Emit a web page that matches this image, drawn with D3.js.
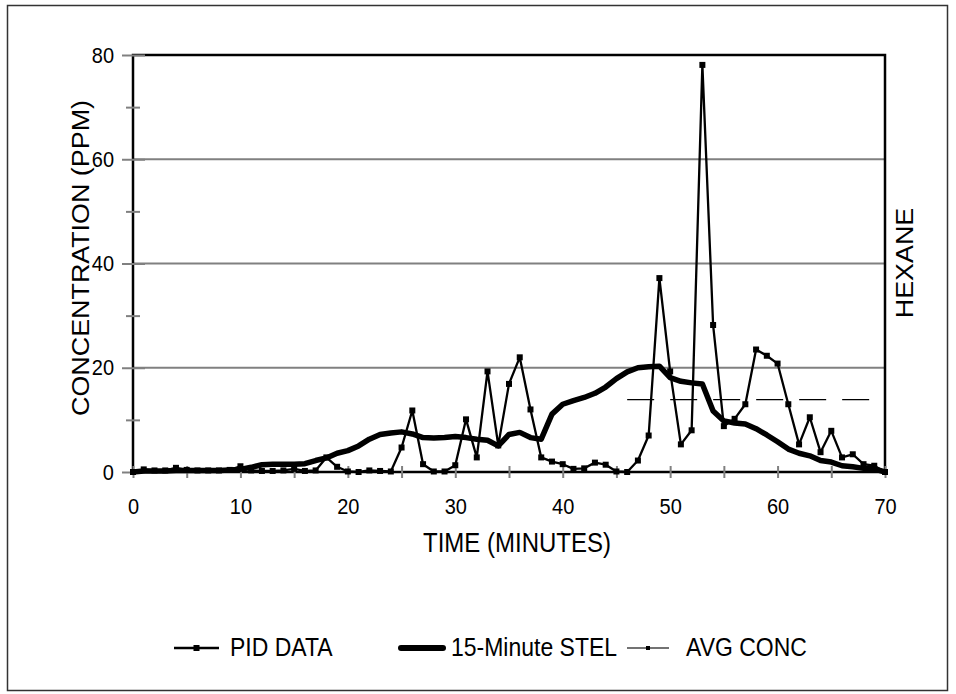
<!DOCTYPE html>
<html>
<head>
<meta charset="utf-8">
<script src="https://cdn.jsdelivr.net/npm/d3@7"></script>
<style>
  body { margin: 0; background: #fff; }
</style>
</head>
<body>
<div id="chart"></div>
<script>
// ---- data ----
const minutes = [0, 1, 2, 3, 4, 5, 6, 7, 8, 9, 10, 11, 12, 13, 14, 15, 16, 17, 18, 19,
  20, 21, 22, 23, 24, 25, 26, 27, 28, 29, 30, 31, 32, 33, 34, 35, 36, 37, 38, 39,
  40, 41, 42, 43, 44, 45, 46, 47, 48, 49, 50, 51, 52, 53, 54, 55, 56, 57, 58, 59,
  60, 61, 62, 63, 64, 65, 66, 67, 68, 69, 70];

const pidData = [0, 0.5, 0.3, 0.3, 0.8, 0.4, 0.3, 0.3, 0.3, 0.4, 1.1, 0.3, 0.2, 0.2, 0.3, 0.6, 0.2, 0.3, 2.8, 1.0,
  0.1, 0, 0.3, 0.2, 0.1, 4.7, 11.8, 1.5, 0.1, 0.1, 1.3, 10.1, 2.8, 19.3, 5.1, 16.9, 22.0, 12.0, 2.8, 2.0,
  1.5, 0.6, 0.7, 1.8, 1.4, 0.1, 0, 2.2, 7.0, 37.2, 19.3, 5.3, 8.0, 78.1, 28.2, 8.8, 10.2, 13.0, 23.5, 22.3,
  20.8, 13.0, 5.3, 10.5, 3.8, 7.9, 2.8, 3.4, 1.5, 1.2, 0];

const stelData = [0, 0.2, 0.2, 0.2, 0.3, 0.3, 0.3, 0.3, 0.3, 0.4, 0.5, 0.9, 1.4, 1.5, 1.5, 1.5, 1.6, 2.2, 2.7, 3.6,
  4.1, 5.0, 6.3, 7.2, 7.5, 7.7, 7.3, 6.6, 6.5, 6.6, 6.8, 6.6, 6.3, 6.1, 5.0, 7.2, 7.6, 6.6, 6.3, 11.1,
  13.0, 13.7, 14.3, 15.1, 16.3, 17.9, 19.2, 20.0, 20.2, 20.3, 18.1, 17.4, 17.1, 16.9, 11.7, 9.8, 9.4, 9.2, 8.3, 7.1,
  5.8, 4.4, 3.6, 3.1, 2.2, 1.9, 1.2, 1.0, 0.7, 0.6, 0];

const avgMinutes = [46, 70];
const avgConc = [13.9, 13.9];

const xTickValues = [0, 5, 10, 15, 20, 25, 30, 35, 40, 45, 50, 55, 60, 65, 70];
const xTickLabels = [0, 10, 20, 30, 40, 50, 60, 70];
const yTickValues = [0, 10, 20, 30, 40, 50, 60, 70, 80];
const yTickLabels = [0, 20, 40, 60, 80];
const gridValues = [20, 40, 60];

const legendNames = ["PID DATA", "15-Minute STEL", "AVG CONC"];

// ---- chart space ----
const width = 956;
const height = 694;
const margin = ({top: 55, right: 71, bottom: 222, left: 133});
const font = "'Liberation Sans', Arial, sans-serif";
const stretch = 1.12; // text in the original looks a bit taller than wide

const svg = d3.create('svg')
  .attr('width', width)
  .attr('height', height)
  .style('font-family', font);

// outer border
svg.append('rect')
  .attr('x', 7.5).attr('y', 5.5)
  .attr('width', 940).attr('height', 685)
  .attr('fill', 'none')
  .attr('stroke', '#333')
  .attr('stroke-width', 1.5);

const xScale = d3.scaleLinear()
  .domain([0, 70])
  .range([margin.left, width - margin.right]);

const yScale = d3.scaleLinear()
  .domain([0, 80])
  .range([height - margin.bottom, margin.top]);

// gridlines
svg.append('g')
  .selectAll('line')
  .data(gridValues)
  .join('line')
  .attr('x1', xScale(0)).attr('x2', xScale(70))
  .attr('y1', d => yScale(d)).attr('y2', d => yScale(d))
  .attr('stroke', '#808080')
  .attr('stroke-width', 2);

// plot frame
svg.append('rect')
  .attr('x', xScale(0)).attr('y', yScale(80))
  .attr('width', xScale(70) - xScale(0))
  .attr('height', yScale(0) - yScale(80))
  .attr('fill', 'none')
  .attr('stroke', '#000')
  .attr('stroke-width', 2.5);

// y axis
const yAxis = svg.append('g')
  .attr('transform', `translate(${margin.left},0)`)
  .call(d3.axisLeft(yScale)
    .tickValues(yTickValues)
    .tickSize(0)
    .tickPadding(19)
    .tickFormat(d => yTickLabels.includes(d) ? d : ''));
yAxis.select('.domain').remove();
yAxis.attr('font-family', font).attr('font-size', 20);
yAxis.selectAll('.tick line')
  .attr('x1', d => d % 20 === 0 ? -11 : -7)
  .attr('x2', d => d % 20 === 0 ? 12 : 7)
  .attr('stroke', '#808080')
  .attr('stroke-width', 2);
yAxis.selectAll('.tick text')
  .attr('fill', '#000')
  .attr('transform', `scale(1,${stretch})`);

// x axis
const xAxis = svg.append('g')
  .attr('transform', `translate(0,${height - margin.bottom})`)
  .call(d3.axisBottom(xScale)
    .tickValues(xTickValues)
    .tickSize(0)
    .tickPadding(23)
    .tickFormat(d => xTickLabels.includes(d) ? d : ''));
xAxis.select('.domain').remove();
xAxis.attr('font-family', font).attr('font-size', 20);
xAxis.selectAll('.tick line')
  .attr('y1', -6)
  .attr('y2', 6)
  .attr('stroke', '#808080')
  .attr('stroke-width', 2);
xAxis.selectAll('.tick text')
  .attr('fill', '#000')
  .attr('transform', `scale(1,${stretch})`);

// axis titles
svg.append('text')
  .attr('transform', `translate(517, 552) scale(1,${stretch})`)
  .attr('text-anchor', 'middle')
  .attr('font-size', 24)
  .text('TIME (MINUTES)');

svg.append('text')
  .attr('transform', `translate(89, 258) rotate(-90) scale(${stretch},1)`)
  .attr('text-anchor', 'middle')
  .attr('font-size', 24)
  .text('CONCENTRATION (PPM)');

svg.append('text')
  .attr('transform', `translate(913, 263) rotate(-90) scale(${stretch},1)`)
  .attr('text-anchor', 'middle')
  .attr('font-size', 24)
  .text('HEXANE');

// series
const pid = minutes.map((m, i) => ({m: m, v: pidData[i]}));
const stel = minutes.map((m, i) => ({m: m, v: stelData[i]}));
const avg = avgMinutes.map((m, i) => ({m: m, v: avgConc[i]}));

const line = d3.line()
  .x(d => xScale(d.m))
  .y(d => yScale(d.v));

svg.append('path')
  .datum(avg)
  .attr('d', line)
  .attr('fill', 'none')
  .attr('stroke', '#000')
  .attr('stroke-width', 1.3)
  .attr('stroke-dasharray', '27,16');

svg.append('path')
  .datum(stel)
  .attr('d', line)
  .attr('fill', 'none')
  .attr('stroke', '#000')
  .attr('stroke-width', 5.5)
  .attr('stroke-linejoin', 'round');

svg.append('path')
  .datum(pid)
  .attr('d', line)
  .attr('fill', 'none')
  .attr('stroke', '#000')
  .attr('stroke-width', 2.3)
  .attr('stroke-linejoin', 'round');

svg.append('g')
  .selectAll('rect')
  .data(pid)
  .join('rect')
  .attr('x', d => xScale(d.m) - 3)
  .attr('y', d => yScale(d.v) - 3)
  .attr('width', 6)
  .attr('height', 6)
  .attr('fill', '#000');

// legend
const legendY = 648;
const legend = svg.append('g').attr('font-size', 23);

legend.append('line')
  .attr('x1', 174).attr('x2', 219).attr('y1', legendY).attr('y2', legendY)
  .attr('stroke', '#000').attr('stroke-width', 2.3);
legend.append('rect')
  .attr('x', 193.5).attr('y', legendY - 3).attr('width', 6).attr('height', 6)
  .attr('fill', '#000');
legend.append('text')
  .attr('transform', `translate(230, ${legendY + 8}) scale(1,${stretch})`)
  .text(legendNames[0]);

legend.append('line')
  .attr('x1', 401).attr('x2', 443).attr('y1', legendY).attr('y2', legendY)
  .attr('stroke', '#000').attr('stroke-width', 6).attr('stroke-linecap', 'round');
legend.append('text')
  .attr('transform', `translate(451, ${legendY + 8}) scale(1,${stretch})`)
  .text(legendNames[1]);

legend.append('line')
  .attr('x1', 627).attr('x2', 669).attr('y1', legendY).attr('y2', legendY)
  .attr('stroke', '#444').attr('stroke-width', 1.3);
legend.append('rect')
  .attr('x', 646).attr('y', legendY - 2).attr('width', 4).attr('height', 4)
  .attr('fill', '#000');
legend.append('text')
  .attr('transform', `translate(686, ${legendY + 8}) scale(1,${stretch})`)
  .text(legendNames[2]);

document.getElementById('chart').appendChild(svg.node());
</script>
</body>
</html>
